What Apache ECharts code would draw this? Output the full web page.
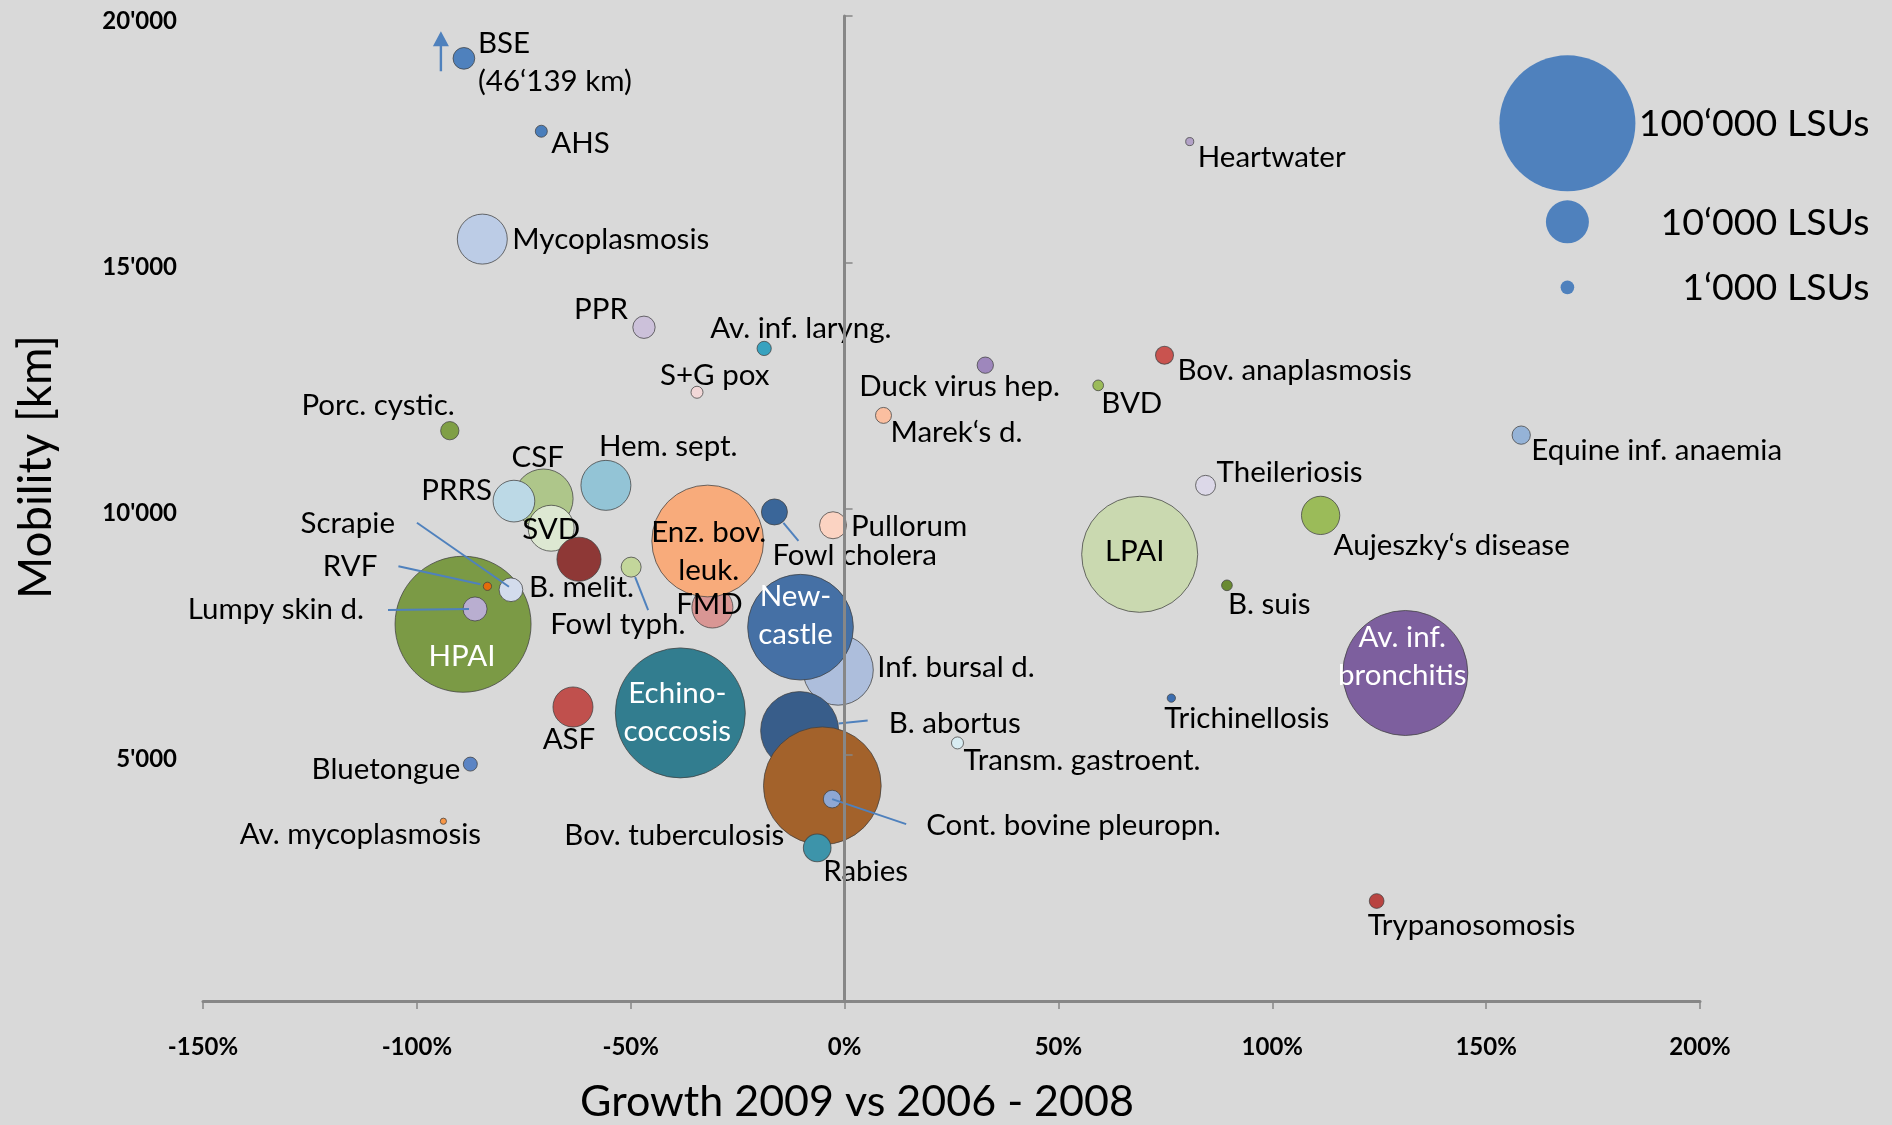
<!DOCTYPE html>
<html>
<head>
<meta charset="utf-8">
<script src="https://cdn.jsdelivr.net/npm/echarts@6/dist/echarts.min.js"></script>
<style>
    html, body { margin: 0; padding: 0; background: #d9d9d9; }
    #chart { width: 1892px; height: 1125px; }
</style>
</head>
<body>
<div id="chart"></div>
<script>
// disease, growth 2009 vs 2006-2008 [%], mobility [km], size [LSUs]
const diseases = ['BSE', 'AHS', 'Heartwater', 'Mycoplasmosis', 'PPR', 'Av. inf. laryng.', 'S+G pox',
    'Duck virus hep.', 'Bov. anaplasmosis', 'BVD', 'Marek‘s d.', 'Porc. cystic.', 'Equine inf. anaemia',
    'CSF', 'PRRS', 'SVD', 'Hem. sept.', 'Theileriosis', 'Aujeszky‘s disease', 'B. melit.', 'FMD',
    'Enz. bov. leuk.', 'Fowl cholera', 'Pullorum', 'Fowl typh.', 'LPAI', 'B. suis', 'HPAI',
    'Lumpy skin d.', 'RVF', 'Scrapie', 'Inf. bursal d.', 'Newcastle', 'Av. inf. bronchitis',
    'Trichinellosis', 'ASF', 'Echinococcosis', 'B. abortus', 'Transm. gastroent.', 'Bluetongue',
    'Bov. tuberculosis', 'Cont. bovine pleuropn.', 'Rabies', 'Av. mycoplasmosis', 'Trypanosomosis'];
const growth = [-89.0, -70.9, 80.7, -84.7, -46.9, -18.8, -34.5,
    32.9, 74.8, 59.3, 9.1, -92.3, 158.2,
    -70.4, -77.3, -68.6, -55.8, 84.4, 111.3, -62.1, -30.9,
    -32.0, -16.4, -2.7, -49.9, 69.0, 89.4, -89.2,
    -86.4, -83.5, -78.0, -1.5, -10.3, 131.1,
    76.4, -63.5, -38.4, -10.5, 26.4, -87.5,
    -5.2, -2.9, -6.4, -93.8, 124.4];
const mobility = [19140, 17660, 17450, 15470, 13680, 13250, 12360,
    12910, 13110, 12500, 11890, 11580, 11490,
    10200, 10150, 9600, 10470, 10470, 9860, 8970, 7990,
    9340, 9930, 9660, 8810, 9070, 8440, 7650,
    7960, 8420, 8350, 6720, 7590, 6660,
    6150, 5970, 5850, 5490, 5240, 4810,
    4370, 4100, 3110, 3650, 2030];
const livestockUnits = [2550, 780, 350, 13500, 2700, 1100, 780,
    1440, 1750, 620, 1380, 1810, 1810,
    19000, 9400, 11400, 13500, 2160, 7930, 10500, 9100,
    67500, 3660, 3940, 2160, 72800, 620, 100000,
    3120, 370, 3040, 26700, 60400, 84500,
    370, 8650, 91400, 32900, 780, 1060,
    74900, 1690, 4150, 210, 1170];

// size key, drawn inside the plot like the original
const legendLabels = ['100‘000 LSUs', '10‘000 LSUs', '1‘000 LSUs'];
const legendGrowth = [169, 169, 169];
const legendMobility = [17820, 15820, 14490];
const legendUnits = [100000, 10000, 1000];

const bseRealMobility = '46‘139 km';

const fontFamily = 'Lato, "Open Sans", sans-serif';
const axisGray = '#878787';
const leaderBlue = '#4f81bd';

const bubbleColor = {
    'BSE': '#4f81bd', 'AHS': '#4a7ebb', 'Heartwater': '#b3a2c7', 'Mycoplasmosis': '#bccce6',
    'PPR': '#ccc1da', 'Av. inf. laryng.': '#37a2bf', 'S+G pox': '#f2d8d8', 'Duck virus hep.': '#9e87bc',
    'Bov. anaplasmosis': '#c9534f', 'BVD': '#9bbb59', 'Marek‘s d.': '#fbbfa0', 'Porc. cystic.': '#7f9f45',
    'Equine inf. anaemia': '#95b3d7', 'CSF': '#aec68a', 'PRRS': '#bcd9e6', 'SVD': '#dde8d2',
    'Hem. sept.': '#93c4d6', 'Theileriosis': '#dcd8e8', 'Aujeszky‘s disease': '#9bbb59',
    'B. melit.': '#8e3836', 'FMD': '#d99694', 'Enz. bov. leuk.': '#f8ab7b', 'Fowl cholera': '#3a6699',
    'Pullorum': '#fbd3c2', 'Fowl typh.': '#c3d69b', 'LPAI': '#cad9b0', 'B. suis': '#6a8a32',
    'HPAI': '#7b9a45', 'Lumpy skin d.': '#b9aed0', 'RVF': '#e46c0a', 'Scrapie': '#d3dcec',
    'Inf. bursal d.': '#adbedc', 'Newcastle': '#4570a5', 'Av. inf. bronchitis': '#7d5f9e',
    'Trichinellosis': '#3c6eb0', 'ASF': '#c0504d', 'Echinococcosis': '#327d8f', 'B. abortus': '#385d8a',
    'Transm. gastroent.': '#d8ecf2', 'Bluetongue': '#5b84c4', 'Bov. tuberculosis': '#a3622b',
    'Cont. bovine pleuropn.': '#8ea7d3', 'Rabies': '#3d94aa', 'Av. mycoplasmosis': '#f79646',
    'Trypanosomosis': '#b94441'
};

// where each label sits relative to its bubble centre: [align, dx, dy]
const labelPlace = {
    'BSE': ['left', 14, 4], 'AHS': ['left', 10, 12], 'Heartwater': ['left', 8, 16],
    'Mycoplasmosis': ['left', 30, 0], 'PPR': ['right', -16, -18], 'Av. inf. laryng.': ['left', -54, -20],
    'S+G pox': ['left', -37, -17], 'Duck virus hep.': ['left', -126, 21], 'Bov. anaplasmosis': ['left', 13, 15],
    'BVD': ['left', 3, 18], 'Marek‘s d.': ['left', 7, 17], 'Porc. cystic.': ['right', 5, -25],
    'Equine inf. anaemia': ['left', 10, 15], 'CSF': ['left', -32, -41], 'PRRS': ['right', -22, -11],
    'SVD': ['center', 0, 1], 'Hem. sept.': ['left', -7, -39], 'Theileriosis': ['left', 11, -13],
    'Aujeszky‘s disease': ['left', 13, 30], 'B. melit.': ['left', -50, 28], 'FMD': ['center', -3, -3],
    'Enz. bov. leuk.': ['center', 1, 10], 'Fowl cholera': ['left', -2, 44], 'Pullorum': ['left', 18, 1],
    'Fowl typh.': ['left', -81, 57], 'LPAI': ['center', -5, -3], 'B. suis': ['left', 1, 19],
    'HPAI': ['center', -1, 32], 'Lumpy skin d.': ['right', -111, 1], 'RVF': ['right', -110, -20],
    'Scrapie': ['right', -116, -66], 'Inf. bursal d.': ['left', 39, -3], 'Newcastle': ['center', -5, -12],
    'Av. inf. bronchitis': ['center', -3, -17], 'Trichinellosis': ['left', -7, 20], 'ASF': ['center', -4, 33],
    'Echinococcosis': ['center', -3, 0], 'B. abortus': ['left', 89, -7], 'Transm. gastroent.': ['left', 6, 18],
    'Bluetongue': ['right', -10, 5], 'Bov. tuberculosis': ['right', -38, 50],
    'Cont. bovine pleuropn.': ['left', 94, 26], 'Rabies': ['left', 6, 24], 'Av. mycoplasmosis': ['center', -83, 13],
    'Trypanosomosis': ['left', -9, 24]
};

const labelText = {
    'BSE': 'BSE\n(' + bseRealMobility + ')',
    'Enz. bov. leuk.': 'Enz. bov.\nleuk.',
    'Newcastle': 'New-\ncastle',
    'Echinococcosis': 'Echino-\ncoccosis',
    'Av. inf. bronchitis': 'Av. inf.\nbronchitis'
};
const whiteLabels = ['HPAI', 'Newcastle', 'Echinococcosis', 'Av. inf. bronchitis'];

// leader lines, pixel offsets from the bubble centre: [x1, y1, x2, y2]
const leaderLines = {
    'Scrapie': [-94, -67, -2, -3],
    'RVF': [-89, -20, -7, -2],
    'Lumpy skin d.': [-87, 1, -6, 0],
    'Fowl typh.': [4, 10, 17, 43],
    'Fowl cholera': [9, 11, 24, 29],
    'B. abortus': [39, -7, 68, -10],
    'Cont. bovine pleuropn.': [0, 0, 74, 25]
};
const leaderNames = Object.keys(leaderLines);

function bubbleDiameter(units) {
    return 136 * Math.sqrt(units / 100000);
}

function formatKm(value) {
    if (value === 0) {
        return '';
    }
    return (value / 1000) + "'000";
}

const bubbleData = diseases.map(function (name, i) {
    const place = labelPlace[name];
    return {
        name: name,
        value: [growth[i], mobility[i], livestockUnits[i]],
        itemStyle: {color: bubbleColor[name]},
        label: {
            position: ['50%', '50%'],
            offset: [place[1], place[2]],
            align: place[0],
            color: whiteLabels.indexOf(name) >= 0 ? '#ffffff' : '#000000'
        }
    };
});

const leaderData = leaderNames.map(function (name) {
    const i = diseases.indexOf(name);
    return {name: name, value: [growth[i], mobility[i]]};
});

const keyData = legendLabels.map(function (text, i) {
    return {name: text, value: [legendGrowth[i], legendMobility[i], legendUnits[i]]};
});

const bseIndex = diseases.indexOf('BSE');

const chart = echarts.init(document.getElementById('chart'));

const option = {
    backgroundColor: '#d9d9d9',
    animation: false,
    textStyle: {fontFamily: fontFamily},
    grid: {
        left: 203,
        right: 192,
        top: 16,
        bottom: 124,
        containLabel: false
    },
    xAxis: {
        type: 'value',
        min: -150,
        max: 200,
        interval: 50,
        splitLine: {show: false},
        axisLine: {onZero: true, lineStyle: {color: axisGray, width: 3}},
        axisTick: {show: true, length: 8, lineStyle: {color: axisGray, width: 1.5}},
        axisLabel: {
            margin: 34,
            formatter: '{value}%',
            color: '#000',
            fontWeight: 'bold',
            fontSize: 24,
            fontFamily: fontFamily
        }
    },
    yAxis: [{
        type: 'value',
        min: 0,
        max: 20000,
        interval: 5000,
        position: 'left',
        splitLine: {show: false},
        axisLine: {show: false, onZero: false},
        axisTick: {show: false},
        axisLabel: {
            margin: 26,
            formatter: formatKm,
            color: '#000',
            fontWeight: 'bold',
            fontSize: 24,
            verticalAlign: 'top',
            lineHeight: 10,
            fontFamily: fontFamily
        }
    }, {
        type: 'value',
        min: 0,
        max: 20000,
        interval: 5000,
        z: 10,
        splitLine: {show: false},
        axisLine: {show: true, onZero: true, lineStyle: {color: axisGray, width: 3}},
        axisTick: {show: true, length: 8, lineStyle: {color: axisGray, width: 1.5}},
        axisLabel: {show: false}
    }],
    graphic: [{
        type: 'text',
        x: 857,
        y: 1102,
        style: {
            text: 'Growth 2009 vs 2006 - 2008',
            fontSize: 43,
            fontFamily: fontFamily,
            fill: '#000',
            align: 'center',
            verticalAlign: 'middle'
        }
    }, {
        type: 'text',
        x: 36,
        y: 467,
        rotation: Math.PI / 2,
        style: {
            text: 'Mobility [km]',
            fontSize: 45.5,
            fontFamily: fontFamily,
            fill: '#000',
            align: 'center',
            verticalAlign: 'middle'
        }
    }],
    series: [{
        name: 'Diseases',
        type: 'scatter',
        silent: true,
        symbol: 'circle',
        symbolSize: function (val) {
            return bubbleDiameter(val[2]);
        },
        itemStyle: {
            borderColor: 'rgba(64,64,64,0.75)',
            borderWidth: 1,
            opacity: 1
        },
        label: {
            show: true,
            formatter: function (p) {
                return labelText[p.name] || p.name;
            },
            fontSize: 29.5,
            lineHeight: 38,
            fontFamily: fontFamily,
            verticalAlign: 'middle'
        },
        markPoint: {
            silent: true,
            symbol: 'path://M8,0L16,15L9.2,15L9.2,40L6.8,40L6.8,15L0,15Z',
            symbolSize: [16, 40],
            symbolOffset: [-23, -7],
            itemStyle: {color: leaderBlue},
            label: {show: false},
            data: [{coord: [growth[bseIndex], mobility[bseIndex]]}]
        },
        data: bubbleData
    }, {
        name: 'Leaders',
        type: 'custom',
        silent: true,
        z: 3,
        renderItem: function (params, api) {
            const c = api.coord([api.value(0), api.value(1)]);
            const off = leaderLines[leaderNames[params.dataIndex]];
            return {
                type: 'line',
                shape: {x1: c[0] + off[0], y1: c[1] + off[1], x2: c[0] + off[2], y2: c[1] + off[3]},
                style: {stroke: leaderBlue, lineWidth: 2}
            };
        },
        data: leaderData
    }, {
        name: 'Size key',
        type: 'scatter',
        silent: true,
        symbol: 'circle',
        symbolSize: function (val) {
            return bubbleDiameter(val[2]);
        },
        itemStyle: {color: '#4f81bd', opacity: 1},
        label: {
            show: true,
            formatter: '{b}',
            position: ['50%', '50%'],
            offset: [302, 1],
            align: 'right',
            verticalAlign: 'middle',
            fontSize: 37.5,
            color: '#000',
            fontFamily: fontFamily
        },
        data: keyData
    }]
};

chart.setOption(option);
</script>
</body>
</html>
